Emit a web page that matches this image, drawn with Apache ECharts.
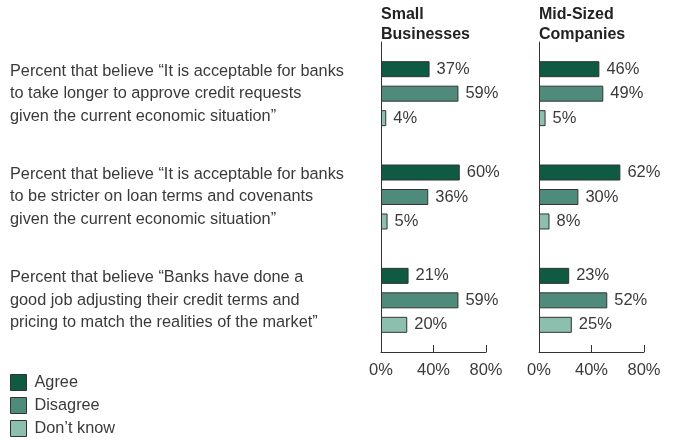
<!DOCTYPE html>
<html>
<head>
<meta charset="utf-8">
<script src="https://cdn.jsdelivr.net/npm/echarts@6/dist/echarts.min.js"></script>
<style>
  html, body { margin: 0; padding: 0; background: #fff; }
  #chart { width: 675px; height: 440px; }
</style>
</head>
<body>
<div id="chart"></div>
<script>
// survey statements (y categories)
var statements = [
    'Percent that believe \u201cIt is acceptable for banks\nto take longer to approve credit requests\ngiven the current economic situation\u201d',
    'Percent that believe \u201cIt is acceptable for banks\nto be stricter on loan terms and covenants\ngiven the current economic situation\u201d',
    'Percent that believe \u201cBanks have done a\ngood job adjusting their credit terms and\npricing to match the realities of the market\u201d'
];
var panels = ['Small\nBusinesses', 'Mid-Sized\nCompanies'];
var answers = ['Agree', 'Disagree', 'Don\u2019t know'];
var colors = ['#0f5a42', '#4f8b7a', '#8cbfae'];

// percent values per answer, one entry per statement
var smallAgree = [37, 60, 21];
var smallDisagree = [59, 36, 59];
var smallDontKnow = [4, 5, 20];
var midAgree = [46, 62, 23];
var midDisagree = [49, 30, 52];
var midDontKnow = [5, 8, 25];

var xTicks = [0, 40, 80];

var font = 'Liberation Sans, Arial, sans-serif';
var textColor = '#3a3a3a';

var values = [
    [smallAgree, smallDisagree, smallDontKnow],
    [midAgree, midDisagree, midDontKnow]
];
var lefts = [381, 539];

var myChart = echarts.init(document.getElementById('chart'));

var grids = [], xAxes = [], yAxes = [], titles = [], series = [];
for (var p = 0; p < 2; p++) {
    grids.push({left: lefts[p], width: 105, top: 42, bottom: 88});
    titles.push({
        text: panels[p],
        left: lefts[p] - 5,
        top: 0,
        textStyle: {fontFamily: font, fontSize: 16, fontWeight: 'bold', color: '#222', lineHeight: 20}
    });
    xAxes.push({
        type: 'value',
        gridIndex: p,
        min: xTicks[0],
        max: xTicks[xTicks.length - 1],
        interval: 40,
        axisLine: {show: true, lineStyle: {color: '#333', width: 1}},
        axisTick: {show: true, inside: true, length: 7, lineStyle: {color: '#333'}},
        splitLine: {show: false},
        axisLabel: {
            formatter: '{value}%',
            margin: 10,
            color: textColor,
            fontFamily: font,
            fontSize: 16.5
        }
    });
    yAxes.push({
        type: 'category',
        gridIndex: p,
        inverse: true,
        data: statements,
        axisLine: {show: true, lineStyle: {color: '#333', width: 1}},
        axisTick: {show: false},
        axisLabel: p === 0 ? {
            show: true,
            align: 'left',
            margin: 371,
            color: textColor,
            fontFamily: font,
            fontSize: 16.3,
            lineHeight: 22.5
        } : {show: false}
    });
    for (var a = 0; a < 3; a++) {
        series.push({
            name: answers[a],
            type: 'bar',
            xAxisIndex: p,
            yAxisIndex: p,
            barWidth: 16,
            barGap: '53%',
            itemStyle: {color: colors[a], borderColor: '#333', borderWidth: 1},
            label: {
                show: true,
                position: 'right',
                distance: 7,
                formatter: '{c}%',
                color: textColor,
                fontFamily: font,
                fontSize: 16.5
            },
            data: values[p][a]
        });
    }
}

var option = {
    animation: false,
    title: titles,
    legend: {
        orient: 'vertical',
        left: 10,
        top: 374,
        padding: 0,
        itemWidth: 16,
        itemHeight: 16,
        itemGap: 6,
        icon: 'rect',
        data: answers,
        itemStyle: {borderColor: '#333', borderWidth: 1},
        textStyle: {color: textColor, fontFamily: font, fontSize: 16.3, padding: [0, 0, 0, 3]}
    },
    grid: grids,
    xAxis: xAxes,
    yAxis: yAxes,
    series: series
};

myChart.setOption(option);
</script>
</body>
</html>
